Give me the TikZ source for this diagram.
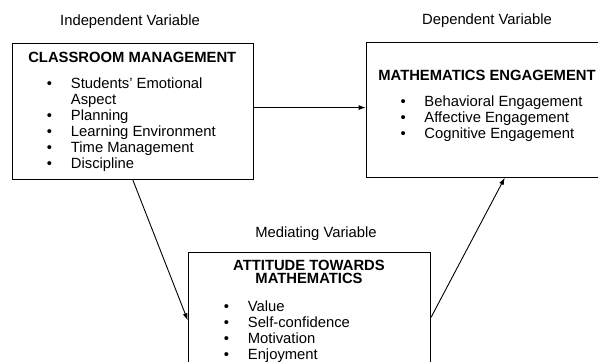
\documentclass[tikz,border=0pt]{standalone}
\usepackage{fontspec}
\setmainfont{Liberation Sans}
\usetikzlibrary{arrows.meta}
\usetikzlibrary{positioning}
\pgfdeclarelayer{nodelayer}
\pgfdeclarelayer{edgelayer}
\pgfsetlayers{edgelayer,nodelayer,main}
\tikzset{none/.style={inner sep=0pt, font=\fontsize{14.8}{16}\selectfont}}
\tikzset{box/.style={draw=black, line width=1.1pt, inner sep=0pt, anchor=north west}}
\tikzset{head/.style={inner sep=0pt, align=center, anchor=base,
font=\fontsize{14.8}{13.5}\selectfont\bfseries}}
\tikzset{items/.style={none, align=left, anchor=base west}}
\tikzset{link/.style={line width=0.9pt, -{Latex[length=7pt,width=5pt]}}}
\newcommand{\itm}{\makebox[24pt][l]{\textbullet}}
\newcommand{\hang}{\hspace*{24pt}}

\begin{document}
\begin{tikzpicture}[x=1pt, y=-1pt]
  \useasboundingbox (0, 0) rectangle (598, 362);
    			\begin{pgfonlayer}{nodelayer}
    				% boxes
    				\node [style=box, minimum width=241.3pt, minimum height=136pt] (cm) at (11.7, 43) {};
    				\node [style=box, minimum width=245pt, minimum height=135pt] (me) at (365.7, 41.7) {};
    				\node [style=box, minimum width=242.3pt, minimum height=136pt] (atm) at (187.7, 251.7) {};
    				% variable labels
    				\node [style=none, anchor=base] (iv) at (130, 25) {Independent Variable};
    				\node [style=none, anchor=base] (dv) at (487, 24) {Dependent Variable};
    				\node [style=none, anchor=base] (mv) at (316, 237) {Mediating Variable};
    				% titles (base = last line)
    				\node [style=head] (cmt) at (132.3, 62) {CLASSROOM MANAGEMENT};
    				\node [style=head] (met) at (487, 80.5) {MATHEMATICS ENGAGEMENT};
    				\node [style=head] (atmt) at (309, 283.5) {ATTITUDE TOWARDS\\MATHEMATICS};
    				% lists (base = last line)
    				\node [style=items] (cml) at (46.7, 168.5) {\itm Students' Emotional\\\hang Aspect\\\itm Planning\\\itm Learning Environment\\\itm Time Management\\\itm Discipline};
    				\node [style=items] (mel) at (400.3, 138.8) {\itm Behavioral Engagement\\\itm Affective Engagement\\\itm Cognitive Engagement};
    				\node [style=items] (atml) at (223.7, 359) {\itm Value\\\itm Self-confidence\\\itm Motivation\\\itm Enjoyment};
    			\end{pgfonlayer}
    			\begin{pgfonlayer}{edgelayer}
    				\draw [style=link] ([yshift=4pt]cm.east) to ([yshift=4pt]cm.east -| me.west);
    				\draw [style=link] (cm.south) to (atm.west);
    				\draw [style=link] ([yshift=3pt]atm.east) to ([xshift=16pt]me.south);
    			\end{pgfonlayer}
\end{tikzpicture}
\end{document}
